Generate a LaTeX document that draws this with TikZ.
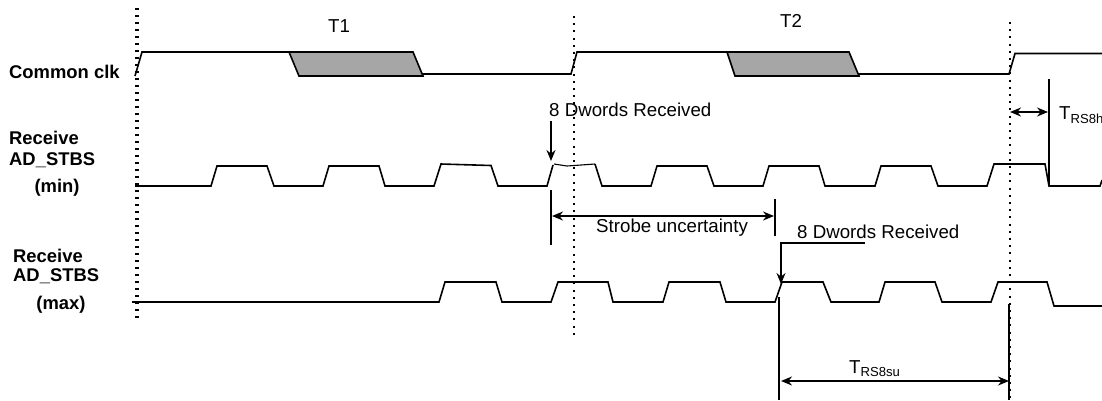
\documentclass[tikz,border=0pt]{standalone}
\usepackage{fontspec}
\setmainfont{Liberation Sans}
\usepackage{xcolor}
\definecolor{mygray}{RGB}{166,166,166}
\usetikzlibrary{arrows.meta}
\tikzset{
	wave/.style={draw=black,line width=1.6pt,line join=miter},
	ticks/.style={draw=black,line width=2pt,dash pattern=on 2pt off 5.2pt},
	bar/.style={draw=black,line width=1.6pt},
	sig/.style={font=\fontsize{18.4pt}{21pt}\selectfont\bfseries,inner sep=0pt},
	lab/.style={font=\fontsize{18.7pt}{22pt}\selectfont,inner sep=0pt}
}

\begin{document}
\begin{tikzpicture}[x=1pt,y=-1pt,>={Stealth[black,length=11pt,width=9pt]}]
	\useasboundingbox (0,0) rectangle (1102,400);

	% dotted clock lines
	\coordinate (L1) at (137,8);
	\coordinate (L2) at (137,322);
	\coordinate (M1) at (574,16);
	\coordinate (M2) at (574,336);
	\coordinate (R1) at (1010,22);
	\coordinate (R2) at (1010,400);
	\path [ticks,line width=3.5pt,dash pattern=on 1.8pt off 5.2pt] (L1) -- (L2);
	\path [ticks] (M1) -- (M2);
	\path [ticks] (R1) -- (R2);

	% waveforms
	\path [wave,fill=mygray] (289,52) -- (413,52) -- (423,76) -- (299,76) -- cycle;
	\path [wave,fill=mygray] (727,52) -- (849,52) -- (859,76) -- (735,76) -- cycle;
	\path [wave] (135,76) -- (142,52) -- (289,52);
	\path [wave] (423,74) -- (571,74) -- (577,52) -- (727,52);
	\path [wave] (859,74) -- (1009,74) -- (1015,53.5) -- (1102,53.5);
	\path [wave] (135,186) -- (211,186) -- (217,166) -- (267,166) -- (274,186) -- (323,186) -- (329,166)
		-- (379,166) -- (385,186) -- (434,186) -- (441,164) -- (491,165.5) -- (498,186) -- (547,186)
		-- (553,165);
	\path [wave,line width=1.1pt] (554,164) -- (567,166) -- (595,164);
	\path [wave] (595,164) -- (602,186) -- (651,186) -- (657,166) -- (707,166) -- (714,186) -- (763,186)
		-- (769,166) -- (819,166) -- (825,186) -- (875,186) -- (881,166) -- (931,166) -- (938,186)
		-- (987,186) -- (994,164) -- (1045,164) -- (1049,186) -- (1100,186) -- (1102,180);
	\path [wave] (132,302) -- (439,302) -- (445,282) -- (496,282) -- (502,302) -- (551,302) -- (558,282)
		-- (608,282) -- (613,302) -- (663,302) -- (669,282) -- (720,282) -- (726,302) -- (775,302)
		-- (782,282) -- (823,282) -- (831,302) -- (879,302) -- (885,282) -- (935,282) -- (942,302)
		-- (991,302) -- (998,282) -- (1047,282) -- (1054,306) -- (1102,306);

	% signal names
	\begin{scope}[every node/.style={sig}]
		\node [anchor=west] (clk) at (9,72) {Common clk};
		\node [anchor=west] (rxa) at (9,138) {Receive};
		\node [anchor=west] (stba) at (9,160) {AD\_STBS};
		\node (mina) at (57,188) {(min)};
		\node [anchor=west] (rxb) at (13,256) {Receive};
		\node [anchor=west] (stbb) at (13,276) {AD\_STBS};
		\node (maxb) at (61,305) {(max)};
	\end{scope}

	% labels
	\begin{scope}[every node/.style={lab}]
		\node (T1) at (339,26) {T1};
		\node (T2) at (791,21) {T2};
		\node [anchor=west] (dwa) at (549,110) {8 Dwords Received};
		\node [anchor=west] (unc) at (596,228) {Strobe uncertainty};
		\node [anchor=west] (dwb) at (797,232) {8 Dwords Received};
		\node [anchor=west] (hold) at (1059,115) {T\textsubscript{RS8h}};
		\node [anchor=west] (setup) at (849,369) {T\textsubscript{RS8su}};
	\end{scope}

	% end points of the timing marks
	\coordinate (a1) at (551,121);
	\coordinate (a2) at (551,161);
	\coordinate (b1) at (551,190);
	\coordinate (b2) at (551,245);
	\coordinate (c1) at (775,199);
	\coordinate (c2) at (775,236);
	\coordinate (d1) at (552,216);
	\coordinate (d2) at (774,216);
	\coordinate (e1) at (865,243);
	\coordinate (e2) at (781,243);
	\coordinate (e3) at (781,284);
	\coordinate (f1) at (779,297);
	\coordinate (f2) at (779,400);
	\coordinate (g1) at (1009,304);
	\coordinate (g2) at (1009,400);
	\coordinate (h1) at (781,381);
	\coordinate (h2) at (1009,381);
	\coordinate (i1) at (1049,79);
	\coordinate (i2) at (1049,186);
	\coordinate (j1) at (1010,112);
	\coordinate (j2) at (1048,112);

	\begin{scope}[every path/.style={bar}]
		\draw [->] (a1) -- (a2);
		\draw (b1) -- (b2);
		\draw (c1) -- (c2);
		\draw [<->] (d1) -- (d2);
		\draw [->] (e1) -- (e2) -- (e3);
		\draw (f1) -- (f2);
		\draw (g1) -- (g2);
		\draw [<->] (h1) -- (h2);
		\draw (i1) -- (i2);
		\draw [<->] (j1) -- (j2);
	\end{scope}
\end{tikzpicture}
\end{document}
